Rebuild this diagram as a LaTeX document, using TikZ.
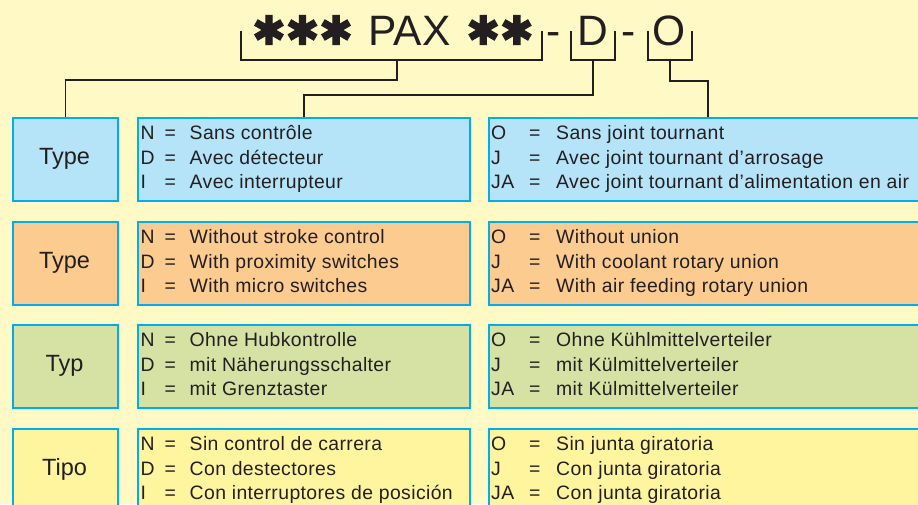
\documentclass[tikz,border=0pt]{standalone}
\usepackage{fontspec}
\setmainfont{Liberation Sans}
\newfontfamily\boxfont[LetterSpace=2]{Liberation Sans}
\newfontfamily\symfont[FakeBold=3]{DejaVu Sans}
\usepackage{array}
\definecolor{bgc}{HTML}{FFF9C5}
\definecolor{cblue}{HTML}{B5E3F8}
\definecolor{corange}{HTML}{FCCB8F}
\definecolor{cgreen}{HTML}{D5E2A4}
\definecolor{cyellow}{HTML}{FFF59F}
\definecolor{cborder}{HTML}{00AEEF}
\definecolor{ink}{HTML}{231F20}
\newcommand{\midtab}[1]{{\boxfont\fontsize{19.4}{24.5}\selectfont\begin{tabular}[t]{@{}p{24pt}@{}p{25pt}@{}l@{}}#1\end{tabular}}}
\newcommand{\righttab}[1]{{\boxfont\fontsize{19.4}{24.5}\selectfont\begin{tabular}[t]{@{}p{38pt}@{}p{27pt}@{}l@{}}#1\end{tabular}}}
\begin{document}
\begin{tikzpicture}[x=1pt,y=-1pt,
  box/.style={draw=cborder, line width=2.2pt, rectangle, inner sep=0pt, anchor=north west},
  conn/.style={draw=ink, line width=1.5pt},
  labtext/.style={text=ink, font=\fontsize{23.5}{23.5}\selectfont, anchor=base, inner sep=0pt},
  txt/.style={text=ink, anchor=base west, inner sep=0pt},
  title/.style={text=ink, font=\fontsize{42.5}{42.5}\selectfont, anchor=base, inner sep=0pt},
  stars/.style={text=ink, font=\symfont\fontsize{40}{40}\selectfont, anchor=center, inner sep=0pt}]
\useasboundingbox (0,0) rectangle (918,504);
\clip (0,0) rectangle (918,504);
\fill[bgc] (0,0) rectangle (918,504);

% boxes
\foreach \t/\c/\lab [count=\i] in {117/cblue/Type,221/corange/Type,324/cgreen/Typ,428/cyellow/Tipo}{
  \node[box, fill=\c, minimum width=105pt, minimum height=83pt] (lab\i) at (12,\t) {};
  \node[box, fill=\c, minimum width=332pt, minimum height=83pt] (mid\i) at (137,\t) {};
  \node[box, fill=\c, minimum width=460pt, minimum height=83pt] (right\i) at (488,\t) {};
  \node[labtext] (labt\i) at (64.5,\t+47.5) {\lab};
}

% box texts
\node[txt] (mt1) at (140.5,139.5) {\midtab{N&=&Sans contrôle\\D&=&Avec détecteur\\I&=&Avec interrupteur}};
\node[txt] (rt1) at (491,139.5) {\righttab{O&=&Sans joint tournant\\J&=&Avec joint tournant d’arrosage\\JA&=&Avec joint tournant d’alimentation en air}};
\node[txt] (mt2) at (140.5,243.5) {\midtab{N&=&Without stroke control\\D&=&With proximity switches\\I&=&With micro switches}};
\node[txt] (rt2) at (491,243.5) {\righttab{O&=&Without union\\J&=&With coolant rotary union\\JA&=&With air feeding rotary union}};
\node[txt] (mt3) at (140.5,346.5) {\midtab{N&=&Ohne Hubkontrolle\\D&=&mit Näherungsschalter\\I&=&mit Grenztaster}};
\node[txt] (rt3) at (491,346.5) {\righttab{O&=&Ohne Kühlmittelverteiler\\J&=&mit Külmittelverteiler\\JA&=&mit Külmittelverteiler}};
\node[txt] (mt4) at (140.5,450.5) {\midtab{N&=&Sin control de carrera\\D&=&Con destectores\\I&=&Con interruptores de posición}};
\node[txt] (rt4) at (491,450.5) {\righttab{O&=&Sin junta giratoria\\J&=&Con junta giratoria\\JA&=&Con junta giratoria}};

% title
\node[stars] (st1) at (302.5,30) {✱✱✱};
\node[title] (pax) at (409.5,45) {PAX};
\node[stars] (st2) at (500,30) {✱✱};
\node[title] (d1) at (554,45) {-};
\node[title] (dd) at (592.5,45) {D};
\node[title] (d2) at (628.5,45) {-};
\node[title] (oo) at (669,45) {O};

% brackets
\coordinate (b1a) at (241,31); \coordinate (b1b) at (542,31);
\coordinate (b2a) at (571,31); \coordinate (b2b) at (615,31);
\coordinate (b3a) at (648,31); \coordinate (b3b) at (692,31);
\coordinate (s1) at (397,60); \coordinate (s2) at (593,60); \coordinate (s3) at (670,60);
\draw[conn] (b1a) |- (s1) -| (b1b);
\draw[conn] (b2a) |- (s2) -| (b2b);
\draw[conn] (b3a) |- (s3) -| (b3b);

% connectors
\draw[conn] (s1) -- ++(0,20) -| (lab1.north);
\draw[conn] (s2) -- ++(0,35) -| (mid1.north);
\draw[conn] (s3) -- ++(0,21) -| ([xshift=220pt]right1.north west);
\end{tikzpicture}
\end{document}
